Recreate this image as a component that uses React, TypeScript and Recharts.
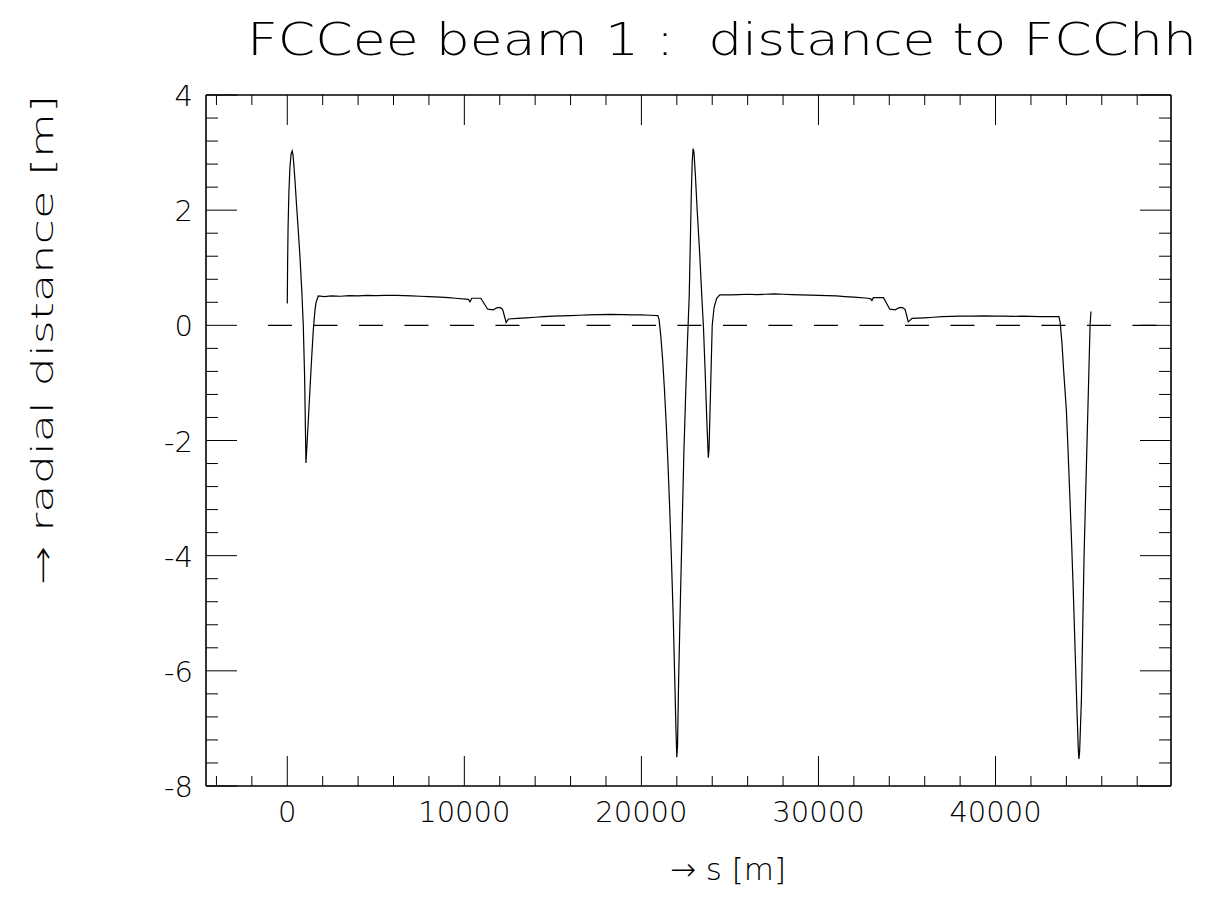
import React from 'react';
import { LineChart, Line, XAxis, YAxis, ReferenceLine } from 'recharts';

const FONT = '"DejaVu Sans", "Liberation Sans", sans-serif';

// s [m] , radial distance [m], section by section
const spikeA: [number, number][] = [
  [0, 0.38], [20, 1.1], [45, 1.7], [90, 2.3], [150, 2.75], [220, 2.98], [280, 3.03],
  [330, 2.95], [435, 2.52], [530, 2.06], [620, 1.65], [717, 1.19], [820, 0.6],
  [904, 0.0], [980, -0.9], [1030, -1.9], [1056, -2.39], [1090, -2.2], [1180, -1.7],
  [1280, -1.12], [1380, -0.55], [1470, -0.08], [1560, 0.25], [1620, 0.39], [1750, 0.51],
];

const arcA: [number, number][] = [
  [2100, 0.5], [2500, 0.51], [3000, 0.505], [3500, 0.515], [4000, 0.51], [4500, 0.52],
  [5000, 0.515], [5500, 0.52], [6200, 0.52], [7000, 0.51], [7500, 0.505], [8000, 0.5],
  [8630, 0.49], [9100, 0.48], [9500, 0.47], [10230, 0.45], [10320, 0.41], [10420, 0.47],
  [10930, 0.47], [11320, 0.28], [11640, 0.27], [11800, 0.3], [11960, 0.31], [12080, 0.3],
  [12170, 0.27], [12360, 0.05], [12490, 0.11], [13000, 0.12], [13500, 0.13], [14000, 0.14],
  [14500, 0.15], [15000, 0.16], [15500, 0.165], [16000, 0.17], [16500, 0.175], [17000, 0.18],
  [17600, 0.185], [18230, 0.19], [19000, 0.185], [19500, 0.18], [20000, 0.18], [20500, 0.175],
  [20930, 0.17],
];

const dipB: [number, number][] = [
  [21000, 0.1], [21100, -0.2], [21200, -0.6], [21300, -1.1], [21400, -1.7], [21500, -2.4],
  [21600, -3.2], [21700, -4.1], [21800, -5.1], [21880, -6.1], [21950, -7.0], [22000, -7.5],
  [22040, -7.3], [22100, -6.2], [22200, -4.8], [22300, -3.5], [22400, -2.2], [22500, -1.2],
  [22600, -0.3], [22700, 0.5], [22760, 1.4], [22820, 2.3], [22870, 2.85], [22920, 3.07],
  [22970, 3.0], [23050, 2.6], [23150, 2.0], [23300, 1.2], [23420, 0.45], [23500, 0.0],
  [23600, -0.8], [23700, -1.7], [23780, -2.3], [23820, -2.15], [23900, -1.2], [24000, 0.0],
  [24100, 0.3], [24250, 0.47], [24430, 0.53],
];

const arcB: [number, number][] = [
  [25000, 0.53], [25500, 0.535], [26000, 0.54], [26500, 0.535], [27000, 0.54], [27500, 0.545],
  [28000, 0.54], [28500, 0.535], [29000, 0.53], [29500, 0.525], [30000, 0.52], [30500, 0.515],
  [31000, 0.51], [31500, 0.5], [32000, 0.49], [32800, 0.47], [32950, 0.46], [33020, 0.43],
  [33100, 0.48], [33670, 0.48], [34030, 0.28], [34350, 0.27], [34500, 0.3], [34640, 0.31],
  [34800, 0.3], [34900, 0.27], [35070, 0.06], [35290, 0.12], [36000, 0.13], [36500, 0.14],
  [37000, 0.15], [37500, 0.155], [38000, 0.16], [38700, 0.16], [39290, 0.165], [40000, 0.16],
  [40500, 0.16], [41000, 0.155], [41500, 0.16], [42000, 0.155], [42500, 0.15], [43000, 0.15],
  [43580, 0.15],
];

const dipC: [number, number][] = [
  [43650, 0.05], [43750, -0.3], [43850, -0.8], [44000, -1.47], [44100, -2.2], [44200, -3.0],
  [44300, -3.8], [44400, -4.7], [44500, -5.7], [44600, -6.7], [44680, -7.4], [44710, -7.53],
  [44750, -7.4], [44850, -6.5], [45000, -4.0], [45170, -2.0], [45340, 0.0], [45390, 0.24],
];

const X_DOMAIN = [-4590, 49910];
const Y_DOMAIN = [-8, 4];
const ZERO_LINE_START = -1090;

const xTicks = [
  -4000, -2000, 0, 2000, 4000, 6000, 8000, 10000, 12000, 14000, 16000, 18000, 20000, 22000,
  24000, 26000, 28000, 30000, 32000, 34000, 36000, 38000, 40000, 42000, 44000, 46000, 48000,
];
const xMajor = [0, 10000, 20000, 30000, 40000];

const yTicks = [
  -8, -7.6, -7.2, -6.8, -6.4, -6, -5.6, -5.2, -4.8, -4.4, -4, -3.6, -3.2, -2.8, -2.4, -2,
  -1.6, -1.2, -0.8, -0.4, 0, 0.4, 0.8, 1.2, 1.6, 2, 2.4, 2.8, 3.2, 3.6, 4,
];
const yMajor = [-8, -6, -4, -2, 0, 2, 4];

const curve = [...spikeA, ...arcA, ...dipB, ...arcB, ...dipC].map(([s, r]) => ({ s, r }));

const labelStyle = { fontFamily: FONT, fontWeight: 200, fill: '#000' } as const;

const BottomTick = ({ x, y, payload }: any) => {
  const major = xMajor.includes(payload.value);
  return (
    <g>
      <line x1={x} x2={x} y1={y} y2={y - (major ? 30 : 10)} stroke="#000" strokeWidth={1} />
      {major && (
        <text x={x} y={y + 36} textAnchor="middle" fontSize={29} {...labelStyle}>
          {payload.value}
        </text>
      )}
    </g>
  );
};

const TopTick = ({ x, y, payload }: any) => {
  const major = xMajor.includes(payload.value);
  return <line x1={x} x2={x} y1={y} y2={y + (major ? 30 : 10)} stroke="#000" strokeWidth={1} />;
};

const LeftTick = ({ x, y, payload }: any) => {
  const major = yMajor.includes(payload.value);
  return (
    <g>
      <line x1={x} x2={x + (major ? 31 : 12)} y1={y} y2={y} stroke="#000" strokeWidth={1} />
      {major && (
        <text x={x - 13} y={y + 11} textAnchor="end" fontSize={29} {...labelStyle}>
          {payload.value}
        </text>
      )}
    </g>
  );
};

const RightTick = ({ x, y, payload }: any) => {
  const major = yMajor.includes(payload.value);
  return <line x1={x} x2={x - (major ? 31 : 12)} y1={y} y2={y} stroke="#000" strokeWidth={1} />;
};

const axisLine = { stroke: '#000', strokeWidth: 1.6 };

export default function App() {
  const W = 1196;
  const H = 890;
  return (
    <div style={{ position: 'relative', width: W, height: H, background: '#fff' }}>
      <LineChart
        width={W}
        height={H}
        data={curve}
        margin={{ top: 86, right: 32, bottom: 111, left: 197 }}
      >
        <XAxis
          dataKey="s"
          type="number"
          domain={X_DOMAIN}
          allowDataOverflow
          ticks={xTicks}
          interval={0}
          height={1}
          tickSize={0}
          tickMargin={0}
          tickLine={false}
          axisLine={axisLine}
          tick={(p: any) => <BottomTick {...p} />}
        />
        <XAxis
          xAxisId="top"
          orientation="top"
          dataKey="s"
          type="number"
          domain={X_DOMAIN}
          allowDataOverflow
          ticks={xTicks}
          interval={0}
          height={1}
          tickSize={0}
          tickMargin={0}
          tickLine={false}
          axisLine={axisLine}
          tick={(p: any) => <TopTick {...p} />}
        />
        <YAxis
          type="number"
          domain={Y_DOMAIN}
          allowDataOverflow
          ticks={yTicks}
          interval={0}
          width={1}
          tickSize={0}
          tickMargin={0}
          tickLine={false}
          axisLine={axisLine}
          tick={(p: any) => <LeftTick {...p} />}
        />
        <YAxis
          yAxisId="right"
          orientation="right"
          type="number"
          domain={Y_DOMAIN}
          allowDataOverflow
          ticks={yTicks}
          interval={0}
          width={1}
          tickSize={0}
          tickMargin={0}
          tickLine={false}
          axisLine={axisLine}
          tick={(p: any) => <RightTick {...p} />}
        />
        <ReferenceLine
          segment={[{ x: ZERO_LINE_START, y: 0 }, { x: X_DOMAIN[1], y: 0 }]}
          stroke="#000"
          strokeWidth={1.2}
          strokeDasharray="24 21.5"
        />
        <Line
          dataKey="r"
          type="linear"
          dot={false}
          stroke="#000"
          strokeWidth={1.2}
          isAnimationActive={false}
        />
      </LineChart>
      <svg
        width={W}
        height={H}
        style={{ position: 'absolute', left: 0, top: 0, pointerEvents: 'none' }}
      >
        <text
          x={714}
          y={47}
          textAnchor="middle"
          fontSize={44}
          textLength={950}
          lengthAdjust="spacingAndGlyphs"
          style={{ whiteSpace: 'pre' }}
          {...labelStyle}
        >
          {'FCCee beam 1 :  distance to FCChh'}
        </text>
        <text
          transform="translate(45, 332) rotate(-90)"
          textAnchor="middle"
          fontSize={31}
          textLength={490}
          lengthAdjust="spacingAndGlyphs"
          {...labelStyle}
        >
          → radial distance [m]
        </text>
        <text x={720} y={872} textAnchor="middle" fontSize={31} {...labelStyle}>
          → s [m]
        </text>
      </svg>
    </div>
  );
}
